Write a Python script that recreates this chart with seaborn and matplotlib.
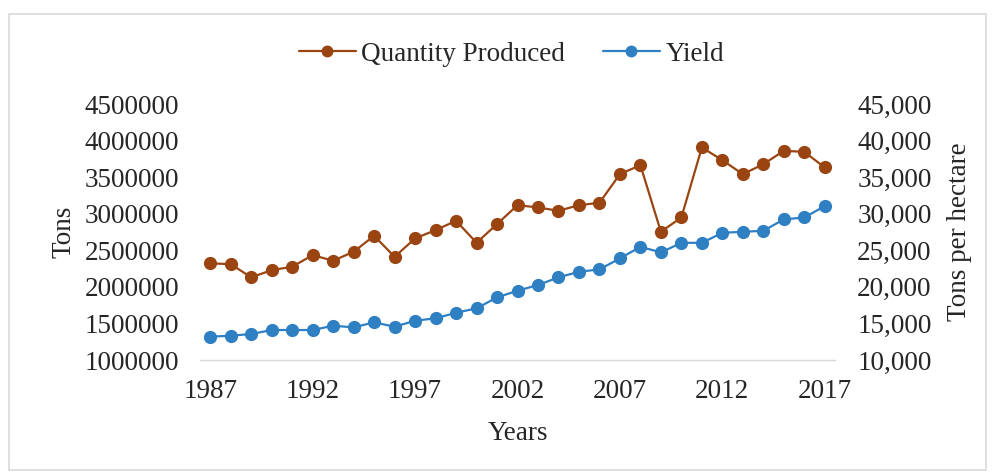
import matplotlib
matplotlib.use("Agg")
import matplotlib.pyplot as plt
import seaborn as sns
import pandas as pd
from matplotlib.patches import Rectangle
from matplotlib.ticker import FuncFormatter, MultipleLocator

years = list(range(1987, 2018))
quantity_produced = [
    2321000, 2311000, 2130000, 2229000, 2275000, 2434000, 2357000, 2480000,
    2698000, 2411000, 2662000, 2776000, 2903000, 2603000, 2858000, 3117000,
    3086000, 3040000, 3117000, 3149000, 3541000, 3664000, 2753000, 2949000,
    3906000, 3732000, 3541000, 3677000, 3860000, 3846000, 3632000,
]
yield_per_ha = [
    13190, 13320, 13550, 14100, 14100, 14100, 14690, 14460,
    15150, 14550, 15370, 15700, 16460, 17060, 18560, 19470,
    20250, 21300, 22060, 22390, 23890, 25480, 24710, 26020,
    26020, 27390, 27530, 27670, 29220, 29490, 31040,
]
year_ticks = [1987, 1992, 1997, 2002, 2007, 2012, 2017]

df = pd.DataFrame({"Year": years, "Quantity Produced": quantity_produced,
                   "Yield": yield_per_ha})

sns.set_theme(style="white")
plt.rcParams["font.family"] = ["Liberation Serif", "DejaVu Serif"]

brown = "#9a4511"
blue = "#2f7fc3"
fs = 19.5
txt = "#262626"

fig = plt.figure(figsize=(9.93, 4.73), dpi=100)
ax = fig.add_axes([0.2014, 0.2389, 0.8409 - 0.2014, 0.7801 - 0.2389])
ax2 = ax.twinx()

sns.lineplot(data=df, x="Year", y="Quantity Produced", ax=ax, color=brown,
             marker="o", markersize=9.5, markeredgewidth=0, linewidth=1.6,
             label="Quantity Produced", legend=False)
sns.lineplot(data=df, x="Year", y="Yield", ax=ax2, color=blue,
             marker="o", markersize=9.5, markeredgewidth=0, linewidth=1.6,
             label="Yield", legend=False)

ax.set_xlim(1986.5, 2017.5)
ax.set_ylim(1000000, 4500000)
ax2.set_ylim(10000, 45000)
ax.yaxis.set_major_locator(MultipleLocator(500000))
ax2.yaxis.set_major_locator(MultipleLocator(5000))
ax.set_xticks(year_ticks)
ax.yaxis.set_major_formatter(FuncFormatter(lambda v, p: f"{int(v)}"))
ax2.yaxis.set_major_formatter(FuncFormatter(lambda v, p: f"{int(v):,}"))

for a in (ax, ax2):
    for side in ("top", "left", "right", "bottom"):
        a.spines[side].set_visible(False)
    a.grid(False)
    a.tick_params(length=0, labelsize=fs, colors=txt)
ax.spines["bottom"].set_visible(True)
ax.spines["bottom"].set_color("#d9d9d9")
ax.spines["bottom"].set_linewidth(1.0)
ax.tick_params(axis="y", pad=15)
ax.tick_params(axis="x", pad=14)
ax2.tick_params(axis="y", pad=16)

ax.set_xlabel("Years", fontsize=fs, color=txt, labelpad=12)
ax.set_ylabel("Tons", fontsize=fs, color=txt, labelpad=6)
ax2.set_ylabel("Tons per hectare", fontsize=fs, color=txt, labelpad=11)

h1, l1 = ax.get_legend_handles_labels()
h2, l2 = ax2.get_legend_handles_labels()
fig.legend(h1 + h2, l1 + l2, loc="center", bbox_to_anchor=(0.515, 0.885),
           ncol=2, frameon=False, fontsize=fs, handlelength=2.1,
           handletextpad=0.2, columnspacing=1.4, markerscale=0.9)

fig.patches.append(Rectangle((9 / 993, 3 / 473), 977 / 993, 456 / 473,
                             transform=fig.transFigure, fill=False,
                             edgecolor="#d9d9d9", linewidth=1.2))

fig.savefig("out.png", dpi=100)
